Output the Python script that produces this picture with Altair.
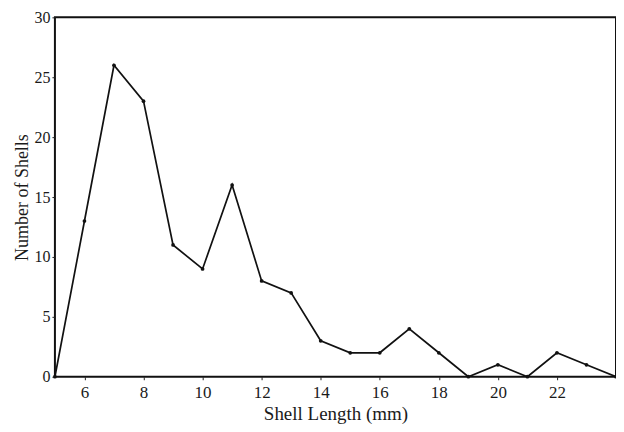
import altair as alt
import pandas as pd

lengths = [5, 6, 7, 8, 9, 10, 11, 12, 13, 14, 15, 16, 17, 18, 19, 20, 21, 22, 23, 24]
counts = [0, 13, 26, 23, 11, 9, 16, 8, 7, 3, 2, 2, 4, 2, 0, 1, 0, 2, 1, 0]
x_ticks = [6, 8, 10, 12, 14, 16, 18, 20, 22]
y_ticks = [0, 5, 10, 15, 20, 25, 30]

df = pd.DataFrame({"length": lengths, "count": counts})

font = "Liberation Serif"

x = alt.X("length:Q", title="Shell Length (mm)",
          scale=alt.Scale(domain=[5, 24], nice=False, zero=False),
          axis=alt.Axis(values=x_ticks, grid=False, domain=False, tickSize=3,
                        tickColor="#222", labelFontSize=17, labelPadding=5,
                        titleFontSize=19, titlePadding=4, titleFontWeight="normal"))
y = alt.Y("count:Q", title="Number of Shells",
          scale=alt.Scale(domain=[0, 30], nice=False),
          axis=alt.Axis(values=y_ticks, grid=False, domain=False, tickSize=3,
                        tickColor="#222", labelFontSize=16, labelPadding=2,
                        titleFontSize=18, titlePadding=2, titleFontWeight="normal"))

line = alt.Chart(df).mark_line(color="#111", strokeWidth=1.7).encode(x=x, y=y)
pts = alt.Chart(df).mark_point(filled=True, color="#111", size=14, opacity=1).encode(x=x, y=y)

chart = (line + pts).properties(
    width=562, height=360,
    autosize=alt.AutoSizeParams(type="none"),
    padding={"left": 47, "top": 9, "right": 0, "bottom": 55},
    background="white",
).configure_view(
    stroke="#111", strokeWidth=2
).configure_axis(
    labelFont=font, titleFont=font, labelColor="#1a1a1a", titleColor="#1a1a1a"
)

chart.save("out.html", embed_options={"renderer": "svg", "actions": False})
